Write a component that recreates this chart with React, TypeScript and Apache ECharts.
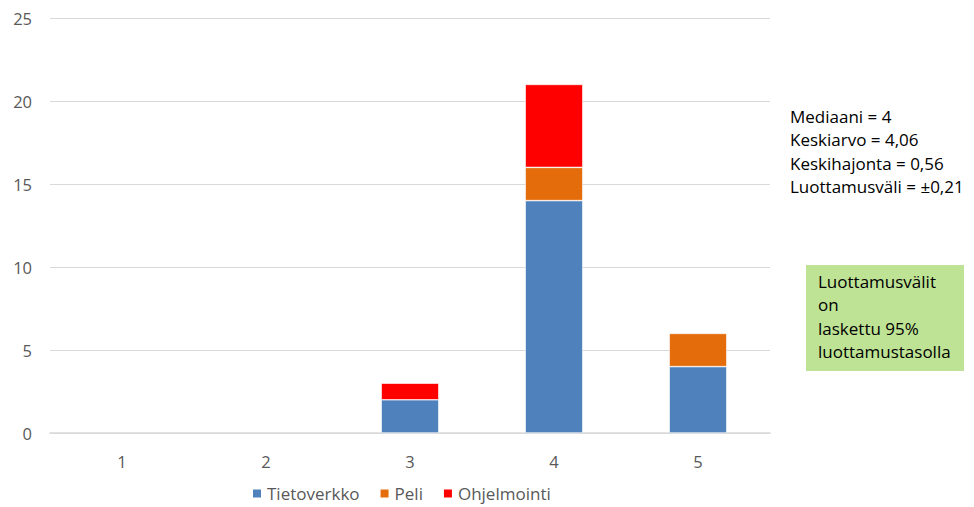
import React, { useEffect, useRef } from "react";
import * as echarts from "echarts";

const categories = ["1", "2", "3", "4", "5"];
const tietoverkko = [0, 0, 2, 14, 4];
const peli = [0, 0, 0, 2, 2];
const ohjelmointi = [0, 0, 1, 5, 0];
const statLines = ["Mediaani = 4", "Keskiarvo = 4,06", "Keskihajonta = 0,56", "Luottamusväli = ±0,21"];
const noteLines = ["Luottamusvälit", "on", "laskettu 95%", "luottamustasolla"];

const FONT = "'Open Sans', 'Noto Sans', sans-serif";

export default function App() {
  const ref = useRef<HTMLDivElement>(null);
  useEffect(() => {
    if (!ref.current) return;
    const chart = echarts.init(ref.current, null, { renderer: "svg" });
    const mk = (name: string, data: number[], color: string) => ({
      name,
      type: "bar",
      stack: "s",
      data: data.map((v) => (v === 0 ? null : v)),
      barWidth: "40%",
      itemStyle: { color, borderColor: "#ffffff", borderWidth: 0.6 },
    });
    chart.setOption({
      animation: false,
      backgroundColor: "#ffffff",
      textStyle: { fontFamily: FONT },
      grid: { left: 50, right: 204, top: 18, bottom: 74 },
      xAxis: {
        type: "category",
        data: categories,
        axisLine: { lineStyle: { color: "#D9D9D9", width: 1.5 } },
        axisTick: { show: false },
        axisLabel: { color: "#595959", fontSize: 16.5, margin: 20, fontFamily: FONT },
      },
      yAxis: {
        type: "value",
        min: 0,
        max: 25,
        interval: 5,
        axisLine: { show: false },
        axisTick: { show: false },
        splitLine: { lineStyle: { color: "#D9D9D9", width: 1 } },
        axisLabel: { color: "#595959", fontSize: 16.5, margin: 18, fontFamily: FONT },
      },
      legend: {
        bottom: 0,
        left: 246,
        itemWidth: 10,
        itemHeight: 10,
        itemGap: 19,
        icon: "rect",
        textStyle: { color: "#595959", fontSize: 17, fontFamily: FONT },
        data: ["Tietoverkko", "Peli", "Ohjelmointi"],
      },
      series: [
        mk("Tietoverkko", tietoverkko, "#4F81BD"),
        mk("Peli", peli, "#E46C0A"),
        mk("Ohjelmointi", ohjelmointi, "#FF0000"),
      ],
      graphic: [
        {
          type: "text",
          left: 790,
          top: 105,
          style: {
            text: statLines.join("\n"),
            fontSize: 17,
            lineHeight: 23.3,
            fill: "#000000",
            fontFamily: FONT,
          },
        },
        {
          type: "rect",
          shape: { x: 806, y: 265, width: 158, height: 106 },
          style: { fill: "#BEE395" },
        },
        {
          type: "text",
          left: 818,
          top: 270,
          style: {
            text: noteLines.join("\n"),
            fontSize: 17,
            lineHeight: 23.3,
            fill: "#000000",
            fontFamily: FONT,
          },
        },
      ],
    });
    return () => chart.dispose();
  }, []);
  return <div ref={ref} style={{ width: 974, height: 507, position: "absolute", left: 0, top: 0 }} />;
}
